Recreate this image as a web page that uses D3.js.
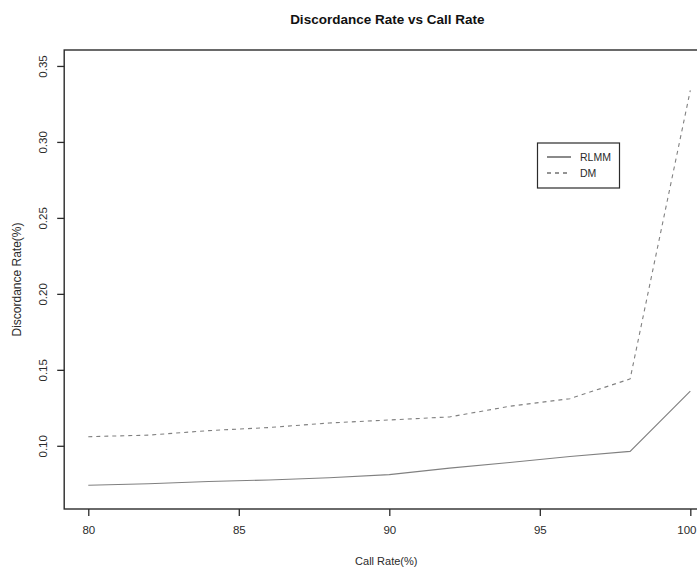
<!DOCTYPE html>
<html>
<head>
<meta charset="utf-8">
<script src="https://cdn.jsdelivr.net/npm/d3@7"></script>
<style>
  html, body { margin: 0; padding: 0; background: #fff; }
  svg { display: block; font-family: "Liberation Sans", Arial, sans-serif; }
</style>
</head>
<body>
<svg id="chart" width="697" height="569"></svg>
<script>
// Data
const callRate = [80, 82, 84, 86, 88, 90, 92, 94, 96, 98, 100];
const rlmm = [0.074, 0.075, 0.0765, 0.0775, 0.079, 0.081, 0.0853, 0.089, 0.093, 0.0963, 0.136];
const dm = [0.106, 0.107, 0.110, 0.112, 0.115, 0.117, 0.119, 0.126, 0.131, 0.144, 0.334];
const xTicks = [80, 85, 90, 95, 100];
const yTicks = [0.10, 0.15, 0.20, 0.25, 0.30, 0.35];
const seriesNames = ['RLMM', 'DM'];

const svg = d3.select('#chart');
const ink = '#2b2b2b';
const lineCol = '#808080';

// Scales (R style 4% padding)
const x = d3.scaleLinear().domain([79.2, 100.8]).range([64.2, 714.4]);
const y = d3.scaleLinear().domain([0.0584, 0.3605]).range([509, 50]);

// Lines
const line = d3.line().x((d, i) => x(callRate[i])).y(d => y(d));

svg.append('path').datum(rlmm)
  .attr('d', line).attr('fill', 'none')
  .attr('stroke', lineCol).attr('stroke-width', 1.1);

svg.append('path').datum(dm)
  .attr('d', line).attr('fill', 'none')
  .attr('stroke', lineCol).attr('stroke-width', 1.1)
  .attr('stroke-dasharray', '4,4');

// Box
svg.append('rect')
  .attr('x', x(79.2)).attr('y', y(0.3605))
  .attr('width', x(100.8) - x(79.2)).attr('height', y(0.0584) - y(0.3605))
  .attr('fill', 'none').attr('stroke', ink).attr('stroke-width', 1.4);

// X axis
const xAxis = svg.append('g').attr('transform', `translate(0,${y(0.0584)})`)
  .call(d3.axisBottom(x).tickValues(xTicks).tickFormat(d3.format('d')).tickSize(7).tickPadding(10));
xAxis.select('.domain').remove();
xAxis.selectAll('line').attr('stroke', ink).attr('stroke-width', 1.3);
xAxis.selectAll('text').attr('font-size', 11.5).attr('fill', ink)
  .attr('font-family', '"Liberation Sans", Arial, sans-serif');
// last label sits at the window edge: keep it inside
xAxis.selectAll('.tick').filter(d => d === 100).select('text')
  .attr('text-anchor', 'end').attr('x', 696 - x(100));

// Y axis (rotated labels)
const yAxis = svg.append('g').attr('transform', `translate(${x(79.2)},0)`)
  .call(d3.axisLeft(y).tickValues(yTicks).tickFormat(d3.format('.2f')).tickSize(7));
yAxis.select('.domain').remove();
yAxis.selectAll('line').attr('stroke', ink).attr('stroke-width', 1.3);
yAxis.selectAll('text').remove();
yAxis.selectAll('.tick').append('text')
  .attr('transform', 'translate(-17,0) rotate(-90)')
  .attr('text-anchor', 'middle')
  .attr('font-size', 11.5).attr('fill', ink)
  .attr('font-family', '"Liberation Sans", Arial, sans-serif')
  .text(d => d3.format('.2f')(d));

// Titles
svg.append('text')
  .attr('x', (x(79.2) + x(100.8)) / 2 - 2).attr('y', 24)
  .attr('text-anchor', 'middle').attr('font-weight', 'bold')
  .attr('font-size', 13.5).attr('fill', '#111')
  .text('Discordance Rate vs Call Rate');

svg.append('text')
  .attr('x', (x(79.2) + x(100.8)) / 2 - 3).attr('y', 565)
  .attr('text-anchor', 'middle').attr('font-size', 11).attr('fill', ink)
  .text('Call Rate(%)');

svg.append('text')
  .attr('transform', `translate(21,${(y(0.0584) + y(0.3605)) / 2}) rotate(-90)`)
  .attr('text-anchor', 'middle').attr('font-size', 12).attr('fill', ink)
  .text('Discordance Rate(%)');

// Legend
const legend = svg.append('g');
legend.append('rect')
  .attr('x', 537.5).attr('y', 143).attr('width', 82).attr('height', 45)
  .attr('fill', '#fff').attr('stroke', ink).attr('stroke-width', 1.2);
seriesNames.forEach((name, i) => {
  const ly = 157 + i * 16;
  legend.append('line')
    .attr('x1', 547).attr('x2', 571).attr('y1', ly).attr('y2', ly)
    .attr('stroke', ink).attr('stroke-width', 1.1)
    .attr('stroke-dasharray', i === 1 ? '4,4' : null);
  legend.append('text')
    .attr('x', 580).attr('y', ly).attr('dy', '0.35em')
    .attr('font-size', 10.5).attr('fill', ink)
    .text(name);
});
</script>
</body>
</html>
